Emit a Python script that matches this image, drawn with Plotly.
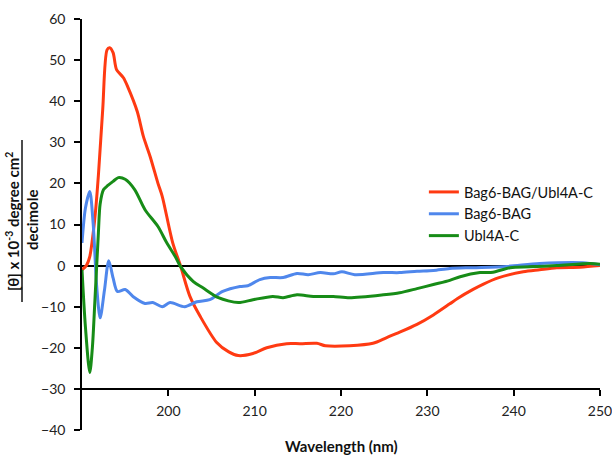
import plotly.graph_objects as go

# Bag6-BAG/Ubl4A-C (red)
red_wl = [190, 190.5, 190.9, 191.3, 191.6, 191.9, 192.4, 192.9, 193.2, 193.6, 194.0, 194.8, 195.3, 196.4,
          197.1, 197.9, 198.8, 199.3, 200.5, 201.4, 202.5, 203.7, 205.6, 207.0, 208.1, 209.8, 211.4,
          213.7, 215.3, 217.2, 218.2, 221.0, 223.7, 225.3, 226.8, 228.8, 230.7, 232.6, 233.5, 235.3,
          236.5, 238.2, 241.1, 243.0, 245.0, 247.7, 250]
red_val = [-1, 0, 2.2, 8, 14, 22, 38, 52.5, 53, 51.8, 47.7, 45.7, 43.5, 37.5,
           31.5, 26.5, 20, 16.8, 5.6, 0, -7.5, -12.4, -18.7, -21, -21.9, -21.4, -20,
           -19, -19, -18.9, -19.5, -19.5, -18.9, -17.5, -16.2, -14.3, -12, -9.3, -8, -5.8,
           -4.5, -3, -1.5, -1, -0.5, -0.4, 0]

# Bag6-BAG (blue)
blue_wl = [190, 190.4, 190.9, 191.3, 191.7, 192.1, 192.6, 193.1, 193.6, 194.1, 195.0, 195.9, 197.3,
           198.2, 199.3, 200.2, 201.9, 203.3, 204.8, 206.3, 208.3, 209.2, 210.6, 211.8, 213.3, 214.9,
           216.2, 217.6, 219.1, 220.1, 221.6, 224.9, 226.8, 228.8, 230.7, 232.6, 235.3, 239.2, 243,
           248, 250]
blue_val = [5.5, 14, 18, 10, -5, -12.7, -6, 1.2, -3, -6.3, -5.8, -7.5, -9.2,
            -9, -10, -9, -10, -8.8, -8.3, -6.3, -5.1, -4.9, -3.4, -2.9, -2.9, -1.9,
            -2.2, -1.7, -2, -1.5, -2.2, -1.7, -1.7, -1.4, -1.2, -0.7, -0.5, -0.2, 0.5,
            0.7, 0.2]

# Ubl4A-C (green)
green_wl = [190, 190.4, 190.9, 191.2, 191.5, 191.9, 192.1, 192.5, 193.0, 193.6, 194.2, 195.0, 196.1,
            197.3, 198.8, 199.8, 200.8, 201.4, 202.9, 204.0, 205.8, 208.1, 209.8, 212.1, 213.3,
            214.9, 216.8, 219.1, 221.0, 224.9, 226.8, 228.8, 230.7, 232.6, 233.8, 236.1, 237.6,
            239.6, 241.9, 245, 248.9, 250]
green_val = [-1, -15, -26, -20, -8.3, 8, 15, 18.5, 19.5, 20.5, 21.4, 21, 18.5,
             13.6, 9.5, 5.6, 2.2, -0.2, -3.9, -5.4, -7.8, -9, -8.3, -7.5, -7.8,
             -7.1, -7.5, -7.5, -7.8, -7.1, -6.6, -5.6, -4.6, -3.6, -2.7, -1.7, -1.6,
             -0.5, -0.3, 0, 0.5, 0.3]

x_ticks = [200, 210, 220, 230, 240, 250]
x_labels = ["200", "210", "220", "230", "240", "250"]
y_ticks = [-40, -30, -20, -10, 0, 10, 20, 30, 40, 50, 60]

FONT = "Lato"

fig = go.Figure()
fig.add_trace(go.Scatter(x=red_wl, y=red_val, mode="lines", name="Bag6-BAG/Ubl4A-C",
                         line=dict(color="#FF3A12", width=3, shape="spline", smoothing=0.8)))
fig.add_trace(go.Scatter(x=blue_wl, y=blue_val, mode="lines", name="Bag6-BAG",
                         line=dict(color="#4F87EC", width=3, shape="spline", smoothing=0.8)))
fig.add_trace(go.Scatter(x=green_wl, y=green_val, mode="lines", name="Ubl4A-C",
                         line=dict(color="#178C17", width=3, shape="spline", smoothing=0.8)))

fig.update_layout(
    width=612, height=462,
    margin=dict(l=82, r=12, t=19, b=32, autoexpand=False),
    plot_bgcolor="white", paper_bgcolor="white",
    font=dict(family=FONT, size=14, color="#222222"),
    showlegend=True,
    legend=dict(x=0.66, y=0.618, xanchor="left", yanchor="top", bgcolor="rgba(0,0,0,0)",
                font=dict(family=FONT, size=14.5, color="#111111"), tracegroupgap=0, itemwidth=30),
    xaxis=dict(range=[190, 250], tickvals=x_ticks, ticktext=x_labels, anchor="free", position=0.1,
               showline=True, linecolor="black", linewidth=1.5, ticks="outside", ticklen=6,
               tickcolor="black", tickwidth=1.5, showgrid=False, zeroline=False, automargin=False,
               ticklabeloverflow="allow", ticklabelstandoff=4),
    yaxis=dict(range=[-40, 60], tickvals=y_ticks, showline=True, linecolor="black", linewidth=1.5,
               ticks="outside", ticklen=6, tickcolor="black", tickwidth=1.5, showgrid=False,
               zeroline=True, zerolinecolor="black", zerolinewidth=2, ticklabelstandoff=6,
               automargin=False),
)

# axis titles
fig.add_annotation(text="<b>Wavelength (nm)</b>", xref="paper", yref="paper", x=0.5, y=0,
                   yshift=-27, showarrow=False, font=dict(family=FONT, size=15, color="#111111"))
fig.add_annotation(text="<b>[θ] x 10<sup>-3</sup> degree cm<sup>2</sup></b>", xref="paper", yref="paper",
                   x=0, xshift=13 - 82, y=(430 - 222) / 411, xanchor="center", yanchor="middle",
                   textangle=-90, showarrow=False, font=dict(family=FONT, size=15, color="#111111"))
fig.add_annotation(text="<b>decimole</b>", xref="paper", yref="paper",
                   x=0, xshift=32 - 82, y=(430 - 220) / 411, xanchor="center", yanchor="middle",
                   textangle=-90, showarrow=False, font=dict(family=FONT, size=15, color="#111111"))
fig.add_shape(type="line", xref="paper", yref="paper",
              x0=(22 - 82) / 518, x1=(22 - 82) / 518, y0=(430 - 140) / 411, y1=(430 - 302) / 411,
              line=dict(color="#111111", width=1.5))

fig.write_html("out.html")
